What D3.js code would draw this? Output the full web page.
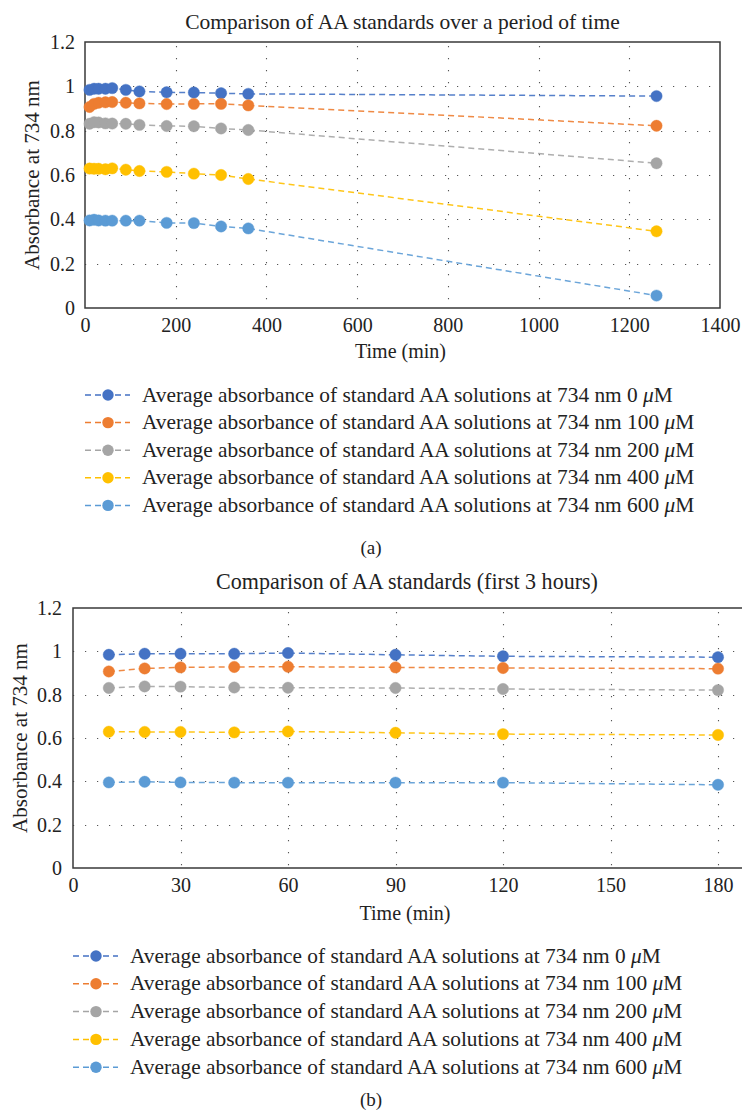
<!DOCTYPE html>
<html>
<head>
<meta charset="utf-8">
<script src="https://cdn.jsdelivr.net/npm/d3@7"></script>
<style>
  html, body { margin: 0; padding: 0; background: #fff; }
  svg { display: block; }
  svg text { font-family: "Liberation Serif", "Times New Roman", serif; fill: #222; }
</style>
</head>
<body>
<svg id="chart" width="742" height="1115"></svg>
<script>
// Sampling times (min)
const times = [10, 20, 30, 45, 60, 90, 120, 180, 240, 300, 360, 1260];

// Average absorbance at 734 nm for each AA standard
const abs0   = [0.984, 0.989, 0.989, 0.989, 0.992, 0.984, 0.977, 0.973, 0.972, 0.969, 0.966, 0.956];
const abs100 = [0.907, 0.921, 0.926, 0.928, 0.929, 0.926, 0.923, 0.920, 0.921, 0.921, 0.914, 0.822];
const abs200 = [0.831, 0.838, 0.837, 0.833, 0.832, 0.831, 0.826, 0.821, 0.820, 0.810, 0.803, 0.653];
const abs400 = [0.629, 0.628, 0.628, 0.626, 0.630, 0.624, 0.618, 0.614, 0.606, 0.600, 0.582, 0.346];
const abs600 = [0.395, 0.398, 0.395, 0.394, 0.394, 0.394, 0.394, 0.384, 0.383, 0.368, 0.359, 0.056];

const seriesNames = [
  "Average absorbance of standard AA solutions at 734 nm 0 \u03bcM",
  "Average absorbance of standard AA solutions at 734 nm 100 \u03bcM",
  "Average absorbance of standard AA solutions at 734 nm 200 \u03bcM",
  "Average absorbance of standard AA solutions at 734 nm 400 \u03bcM",
  "Average absorbance of standard AA solutions at 734 nm 600 \u03bcM"
];
const seriesColors = ["#4472C4", "#ED7D31", "#A5A5A5", "#FFC000", "#5B9BD5"];
const seriesValues = [abs0, abs100, abs200, abs400, abs600];

const yTicks = [0, 0.2, 0.4, 0.6, 0.8, 1, 1.2];
const xTicksA = [0, 200, 400, 600, 800, 1000, 1200, 1400];
const xTicksB = [0, 30, 60, 90, 120, 150, 180];

const titleA = "Comparison of AA standards over a period of time";
const titleB = "Comparison of AA standards (first 3 hours)";

const FONT = "Liberation Serif";
const svg = d3.select("#chart");
svg.append("rect").attr("width", 742).attr("height", 1115).attr("fill", "#fff");

function fitText(sel, target) {
  const w = sel.node().getComputedTextLength();
  const fs = parseFloat(sel.attr("font-size"));
  sel.attr("font-size", (fs * target / w).toFixed(2));
}

function drawPanel(cfg) {
  const g = svg.append("g").attr("font-family", FONT);
  const x = d3.scaleLinear().domain(cfg.xDomain).range([cfg.left, cfg.xRight]);
  const y = d3.scaleLinear().domain([0, 1.2]).range([cfg.bottom, cfg.top]);

  // dotted gridlines
  const grid = g.append("g").attr("stroke", "#555").attr("stroke-width", 1.1)
    .attr("stroke-dasharray", "1.2,10.8");
  grid.selectAll(".hg").data(yTicks.filter(v => v > 0 && v < 1.2)).join("line")
    .attr("x1", cfg.left).attr("x2", cfg.frameRight - 6)
    .attr("y1", d => Math.round(y(d)) + 0.5).attr("y2", d => Math.round(y(d)) + 0.5);
  grid.selectAll(".vg").data(cfg.xTicks.filter(v => v > 0 && x(v) < cfg.frameRight - 2)).join("line")
    .attr("x1", d => Math.round(x(d)) + 0.5).attr("x2", d => Math.round(x(d)) + 0.5)
    .attr("y1", cfg.top + 4).attr("y2", cfg.bottom);

  // frame
  g.append("path")
    .attr("d", cfg.closed
      ? `M${cfg.left},${cfg.top}H${cfg.frameRight}V${cfg.bottom}H${cfg.left}Z`
      : `M${cfg.frameRight + 5},${cfg.top}H${cfg.left}V${cfg.bottom}H${cfg.frameRight + 5}`)
    .attr("fill", "none").attr("stroke", "#3a3a3a").attr("stroke-width", 1.5);

  // axis tick labels
  const yAxis = d3.axisLeft(y).tickValues(yTicks).tickSize(0).tickPadding(cfg.yPad)
    .tickFormat(d => d3.format("~g")(d));
  g.append("g").attr("transform", `translate(${cfg.left},0)`).call(yAxis)
    .attr("font-family", FONT)
    .call(a => a.select(".domain").remove())
    .selectAll("text").attr("font-size", 20).attr("fill", "#222");

  const xAxis = d3.axisBottom(x).tickValues(cfg.xTicks).tickSize(0).tickPadding(cfg.xPad)
    .tickFormat(d3.format("d"));
  g.append("g").attr("transform", `translate(0,${cfg.bottom})`).call(xAxis)
    .attr("font-family", FONT)
    .call(a => a.select(".domain").remove())
    .selectAll("text").attr("font-size", 20).attr("fill", "#222");

  // title and axis titles
  const t = g.append("text").attr("x", cfg.titleX).attr("y", cfg.titleY)
    .attr("text-anchor", "middle").attr("font-size", 20).text(cfg.title);
  fitText(t, cfg.titleW);

  g.append("text").attr("x", (cfg.left + cfg.frameRight) / 2 - 2).attr("y", cfg.xLabelY)
    .attr("text-anchor", "middle").attr("font-size", 20).text("Time (min)");

  const yl = g.append("text")
    .attr("transform", `translate(${cfg.yLabelX},${(cfg.top + cfg.bottom) / 2}) rotate(-90)`)
    .attr("text-anchor", "middle").attr("font-size", 20).text("Absorbance at 734 nm");
  fitText(yl, 190);

  // series: dashed lines under round markers
  const line = d3.line().x(d => x(d[0])).y(d => y(d[1]));
  const seriesPts = seriesValues.map(vals =>
    times.map((tt, k) => [tt, vals[k]]).filter(d => d[0] <= cfg.tMax));
  seriesPts.forEach((pts, i) => {
    g.append("path").datum(pts).attr("d", line)
      .attr("fill", "none").attr("stroke", seriesColors[i]).attr("stroke-width", 1.5)
      .attr("stroke-dasharray", "6,4").attr("opacity", 0.9);
  });
  seriesPts.forEach((pts, i) => {
    g.selectAll(null).data(pts).join("circle")
      .attr("cx", d => x(d[0])).attr("cy", d => y(d[1])).attr("r", 5.7)
      .attr("fill", seriesColors[i]).attr("stroke", seriesColors[i]).attr("stroke-opacity", 0.5)
      .attr("stroke-width", 0.8);
  });

  // legend
  const lg = g.append("g");
  seriesNames.forEach((name, i) => {
    const cy = cfg.legendY + i * cfg.legendStep;
    const lx = cfg.legendX;
    lg.append("line").attr("x1", lx).attr("x2", lx + 45).attr("y1", cy).attr("y2", cy)
      .attr("stroke", seriesColors[i]).attr("stroke-width", 1.5).attr("stroke-dasharray", "6,4");
    lg.append("circle").attr("cx", lx + 23).attr("cy", cy).attr("r", 5.7).attr("fill", seriesColors[i]);
    const tx = lg.append("text").attr("x", lx + 57).attr("y", cy + 6.5).attr("font-size", 20);
    const parts = name.split("\u03bcM");
    tx.append("tspan").text(parts[0]);
    tx.append("tspan").attr("font-style", "italic").text("\u03bc");
    tx.append("tspan").text("M");
  });
  const first = lg.select("text");
  const w0 = first.node().getComputedTextLength();
  const fs = 20 * cfg.legendW / w0;
  lg.selectAll("text").attr("font-size", fs.toFixed(2));

  // panel caption
  g.append("text").attr("x", 371).attr("y", cfg.capY).attr("text-anchor", "middle")
    .attr("font-size", 19).text(cfg.caption);
}

drawPanel({
  left: 85, xRight: 720, frameRight: 720, top: 42, bottom: 308,
  xDomain: [0, 1400], xTicks: xTicksA, tMax: 1400, closed: true,
  yPad: 10, xPad: 10,
  title: titleA, titleX: 402.5, titleY: 29, titleW: 435,
  xLabelY: 358, yLabelX: 39,
  legendX: 85, legendY: 395, legendStep: 27.6, legendW: 531,
  caption: "(a)", capY: 554
});

drawPanel({
  left: 73, xRight: 718, frameRight: 741, top: 608, bottom: 868,
  xDomain: [0, 180], xTicks: xTicksB, tMax: 180, closed: false,
  yPad: 11, xPad: 10,
  title: titleB, titleX: 407, titleY: 589, titleW: 382,
  xLabelY: 920, yLabelX: 27,
  legendX: 73, legendY: 956, legendStep: 27.8, legendW: 531,
  caption: "(b)", capY: 1106
});
</script>
</body>
</html>
